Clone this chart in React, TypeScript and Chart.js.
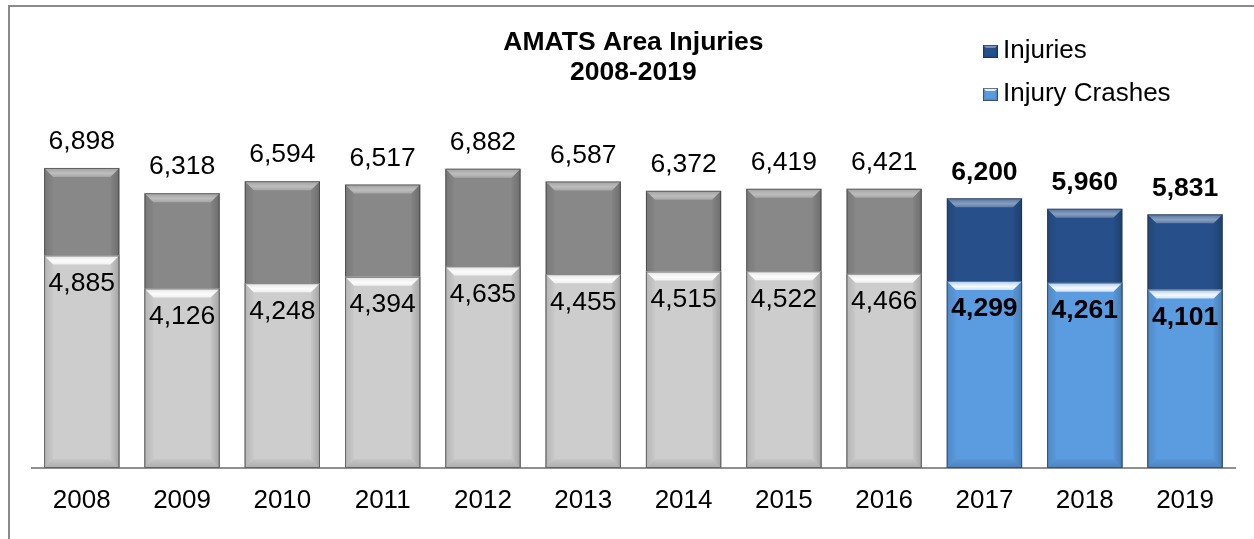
import React, { useEffect, useRef } from "react";
import { Chart, registerables } from "chart.js";

Chart.register(...registerables);

const years = ["2008", "2009", "2010", "2011", "2012", "2013", "2014", "2015", "2016", "2017", "2018", "2019"];
const injuries = [6898, 6318, 6594, 6517, 6882, 6587, 6372, 6419, 6421, 6200, 5960, 5831];
const injuryCrashes = [4885, 4126, 4248, 4394, 4635, 4455, 4515, 4522, 4466, 4299, 4261, 4101];
const highlightYears = ["2017", "2018", "2019"];
const titleLines = ["AMATS Area Injuries", "2008-2019"];
const seriesNames = ["Injuries", "Injury Crashes"];

const FONT = "Arial, 'Liberation Sans', Helvetica, sans-serif";
const GRAY_DARK = "#888888";
const GRAY_LIGHT = "#cdcdcd";
const BLUE_DARK = "#27508a";
const BLUE_LIGHT = "#5b9be0";

const isHi = (i: number) => highlightYears.includes(years[i]);

function bevel(ctx: CanvasRenderingContext2D, left: number, top: number, right: number, bottom: number, b: number, light: boolean) {
  const w = right - left;
  const h = bottom - top;
  if (h < 2 * b) b = Math.max(1, h / 2);
  ctx.save();
  // top band
  const gTop = ctx.createLinearGradient(0, top, 0, top + b);
  gTop.addColorStop(0, `rgba(255,255,255,${light ? 0.45 : 0.2})`);
  gTop.addColorStop(0.6, `rgba(255,255,255,${light ? 0.95 : 0.45})`);
  gTop.addColorStop(1, `rgba(255,255,255,${light ? 0.7 : 0.25})`);
  ctx.fillStyle = gTop;
  ctx.beginPath();
  ctx.moveTo(left, top);
  ctx.lineTo(right, top);
  ctx.lineTo(right - b, top + b);
  ctx.lineTo(left + b, top + b);
  ctx.closePath();
  ctx.fill();
  // left strip
  const gL = ctx.createLinearGradient(left, 0, left + b, 0);
  gL.addColorStop(0, "rgba(0,0,0,0.12)");
  gL.addColorStop(1, "rgba(0,0,0,0.02)");
  ctx.fillStyle = gL;
  ctx.beginPath();
  ctx.moveTo(left, top);
  ctx.lineTo(left + b, top + b);
  ctx.lineTo(left + b, bottom - b);
  ctx.lineTo(left, bottom);
  ctx.closePath();
  ctx.fill();
  // right strip
  const gR = ctx.createLinearGradient(right, 0, right - b, 0);
  gR.addColorStop(0, "rgba(0,0,0,0.2)");
  gR.addColorStop(1, "rgba(0,0,0,0.03)");
  ctx.fillStyle = gR;
  ctx.beginPath();
  ctx.moveTo(right, top);
  ctx.lineTo(right - b, top + b);
  ctx.lineTo(right - b, bottom - b);
  ctx.lineTo(right, bottom);
  ctx.closePath();
  ctx.fill();
  // bottom band
  const gB = ctx.createLinearGradient(0, bottom - b, 0, bottom);
  gB.addColorStop(0, "rgba(0,0,0,0.03)");
  gB.addColorStop(1, "rgba(0,0,0,0.16)");
  ctx.fillStyle = gB;
  ctx.beginPath();
  ctx.moveTo(left, bottom);
  ctx.lineTo(right, bottom);
  ctx.lineTo(right - b, bottom - b);
  ctx.lineTo(left + b, bottom - b);
  ctx.closePath();
  ctx.fill();
  // outline
  ctx.strokeStyle = "rgba(40,40,40,0.55)";
  ctx.lineWidth = 1;
  ctx.strokeRect(left + 0.5, top + 0.5, w - 1, h - 1);
  ctx.restore();
}

const decorPlugin = {
  id: "decor",
  beforeDraw(chart: any) {
    const { ctx, width, height } = chart;
    ctx.save();
    ctx.fillStyle = "#ffffff";
    ctx.fillRect(0, 0, width, height);
    ctx.strokeStyle = "#8a8a8a";
    ctx.lineWidth = 2;
    ctx.beginPath();
    ctx.moveTo(9, height + 2);
    ctx.lineTo(9, 6);
    ctx.lineTo(width + 2, 6);
    ctx.stroke();
    ctx.restore();
  },
  afterDatasetDraw(chart: any, args: any) {
    const ctx = chart.ctx;
    const dsIndex = args.index;
    const light = dsIndex === 1;
    args.meta.data.forEach((el: any) => {
      const p = el.getProps(["x", "y", "base", "width"], true);
      bevel(ctx, p.x - p.width / 2, p.y, p.x + p.width / 2, p.base, 9, light);
    });
  },
  afterDraw(chart: any) {
    const { ctx, chartArea } = chart;
    ctx.save();
    // title
    const cx = (chartArea.left + chartArea.right) / 2;
    ctx.fillStyle = "#000";
    ctx.textAlign = "center";
    ctx.textBaseline = "middle";
    ctx.font = `bold 26.5px ${FONT}`;
    ctx.fillText(titleLines[0], cx, 43);
    ctx.fillText(titleLines[1], cx, 73);

    // legend
    const legendColors = [BLUE_DARK, BLUE_LIGHT];
    const rowsY = [51, 94];
    ctx.textAlign = "left";
    ctx.font = `26px ${FONT}`;
    seriesNames.forEach((name, i) => {
      const y = rowsY[i];
      ctx.fillStyle = legendColors[i];
      ctx.fillRect(983, y - 6, 15, 13);
      bevel(ctx, 983, y - 6, 998, y + 7, 3, i === 1);
      ctx.fillStyle = "#000";
      ctx.fillText(name, 1003, y);
    });

    // value labels
    const metaTot = chart.getDatasetMeta(0);
    const metaCr = chart.getDatasetMeta(1);
    ctx.textAlign = "center";
    metaTot.data.forEach((el: any, i: number) => {
      ctx.font = `${isHi(i) ? "bold " : ""}26.5px ${FONT}`;
      ctx.fillText(injuries[i].toLocaleString("en-US"), el.x, el.y - 26);
    });
    metaCr.data.forEach((el: any, i: number) => {
      ctx.font = `${isHi(i) ? "bold " : ""}26.5px ${FONT}`;
      ctx.fillText(injuryCrashes[i].toLocaleString("en-US"), el.x, el.y + 28);
    });
    ctx.restore();
  },
};

export default function App() {
  const ref = useRef<HTMLCanvasElement | null>(null);
  useEffect(() => {
    document.body.style.margin = "0";
    if (!ref.current) return;
    const chart = new Chart(ref.current, {
      type: "bar",
      data: {
        labels: years,
        datasets: [
          {
            label: seriesNames[0],
            data: injuries,
            backgroundColor: years.map((_, i) => (isHi(i) ? BLUE_DARK : GRAY_DARK)),
            borderWidth: 0,
            order: 2,
            grouped: false,
            barPercentage: 0.75,
            categoryPercentage: 1,
          },
          {
            label: seriesNames[1],
            data: injuryCrashes,
            backgroundColor: years.map((_, i) => (isHi(i) ? BLUE_LIGHT : GRAY_LIGHT)),
            borderWidth: 0,
            order: 1,
            grouped: false,
            barPercentage: 0.75,
            categoryPercentage: 1,
          },
        ],
      },
      options: {
        responsive: false,
        animation: false,
        devicePixelRatio: 1,
        layout: { padding: { left: 31.6, right: 18.8, top: 33, bottom: 0 } },
        plugins: {
          legend: { display: false },
          title: { display: false },
          tooltip: { enabled: false },
        },
        scales: {
          x: {
            grid: { display: false, drawTicks: false },
            border: { display: true, color: "#909090", width: 2 },
            ticks: { font: { size: 26, family: FONT }, color: "#000", padding: 17 },
            afterFit: (s: any) => {
              s.height = 71;
            },
          },
          y: { display: false, min: 0, max: 10000 },
        },
      },
      plugins: [decorPlugin],
    });
    return () => chart.destroy();
  }, []);
  return (
    <div style={{ width: 1254, height: 539 }}>
      <canvas ref={ref} width={1254} height={539} style={{ display: "block" }} />
    </div>
  );
}
